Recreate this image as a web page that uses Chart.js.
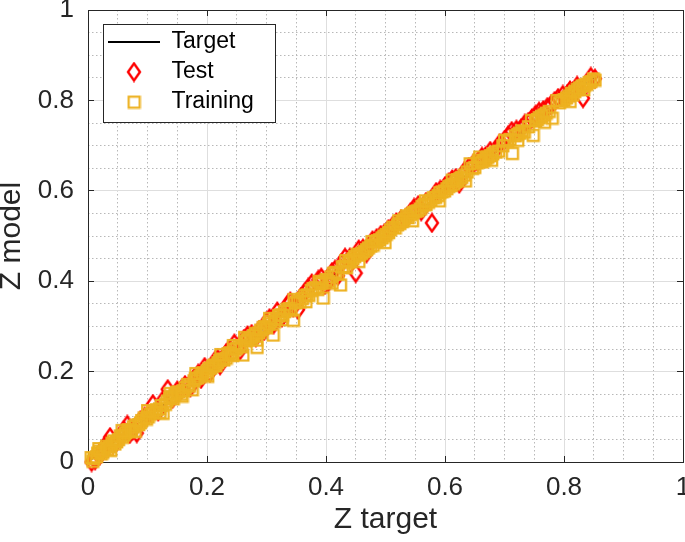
<!DOCTYPE html>
<html>
<head>
<meta charset="utf-8">
<title>Z model vs Z target</title>
<script src="https://cdn.jsdelivr.net/npm/chart.js@4"></script>
<style>
  html, body { margin: 0; padding: 0; background: #fff; }
  #wrap { width: 685px; height: 542px; }
</style>
</head>
<body>
<div id="wrap"><canvas id="chart"></canvas></div>
<script>
// Axis ticks (both axes use the same range)
const tickValues = [0, 0.2, 0.4, 0.6, 0.8, 1];
const tickLabels = ['0', '0.2', '0.4', '0.6', '0.8', '1'];
const minorTicks = [0, 0.05, 0.1, 0.15, 0.2, 0.25, 0.3, 0.35, 0.4, 0.45, 0.5,
  0.55, 0.6, 0.65, 0.7, 0.75, 0.8, 0.85, 0.9, 0.95, 1];

// Target line (y = x over the data range)
const targetX = [0.005, 0.855];
const targetY = [0.005, 0.855];

// Test set
const testX = [0.012, 0.020, 0.030, 0.037, 0.048, 0.055, 0.066, 0.075, 0.082, 0.095,
  0.109, 0.118, 0.134, 0.142, 0.150, 0.163, 0.172, 0.185, 0.196, 0.205,
  0.214, 0.222, 0.232, 0.246, 0.255, 0.262, 0.275, 0.288, 0.296, 0.305,
  0.318, 0.326, 0.336, 0.345, 0.353, 0.364, 0.376, 0.387, 0.398, 0.410,
  0.420, 0.432, 0.450, 0.455, 0.468, 0.478, 0.492, 0.505, 0.518, 0.535,
  0.548, 0.560, 0.578, 0.585, 0.600, 0.612, 0.624, 0.640, 0.655, 0.668,
  0.685, 0.700, 0.712, 0.728, 0.740, 0.752, 0.765, 0.778, 0.790, 0.805,
  0.815, 0.832, 0.840, 0.852,
  0.006, 0.025, 0.042, 0.060, 0.070, 0.088, 0.102, 0.125, 0.157, 0.178,
  0.190, 0.218, 0.238, 0.268, 0.282, 0.300, 0.312, 0.340, 0.358, 0.370,
  0.392, 0.404, 0.415, 0.426, 0.440, 0.462, 0.485, 0.498, 0.512, 0.526,
  0.542, 0.555, 0.568, 0.592, 0.606, 0.618, 0.632, 0.648, 0.662, 0.676,
  0.692, 0.706, 0.720, 0.734, 0.746, 0.758, 0.772, 0.784, 0.798, 0.810,
  0.822, 0.845];
const testY = [0.004, 0.015, 0.038, 0.055, 0.045, 0.060, 0.082, 0.070, 0.064, 0.100,
  0.128, 0.112, 0.161, 0.140, 0.158, 0.170, 0.165, 0.195, 0.210, 0.198,
  0.225, 0.214, 0.240, 0.262, 0.246, 0.272, 0.283, 0.292, 0.290, 0.318,
  0.333, 0.320, 0.350, 0.342, 0.337, 0.375, 0.395, 0.403, 0.392, 0.420,
  0.412, 0.452, 0.418, 0.470, 0.462, 0.490, 0.502, 0.515, 0.530, 0.540,
  0.562, 0.555, 0.529, 0.597, 0.610, 0.625, 0.616, 0.652, 0.664, 0.676,
  0.690, 0.712, 0.732, 0.738, 0.752, 0.768, 0.778, 0.790, 0.805, 0.812,
  0.820, 0.805, 0.838, 0.848,
  0.000, 0.030, 0.040, 0.070, 0.062, 0.092, 0.105, 0.135, 0.160, 0.185,
  0.184, 0.228, 0.250, 0.280, 0.276, 0.310, 0.305, 0.355, 0.365, 0.385,
  0.408, 0.398, 0.425, 0.440, 0.452, 0.472, 0.495, 0.505, 0.522, 0.536,
  0.552, 0.568, 0.575, 0.602, 0.618, 0.628, 0.642, 0.660, 0.675, 0.688,
  0.705, 0.722, 0.735, 0.748, 0.760, 0.775, 0.785, 0.798, 0.812, 0.822,
  0.832, 0.852];

// Training set
const trainX = [0.005, 0.010, 0.016, 0.022, 0.028, 0.033, 0.040, 0.045, 0.051, 0.058,
  0.063, 0.070, 0.076, 0.085, 0.090, 0.098, 0.104, 0.112, 0.120, 0.126,
  0.133, 0.140, 0.146, 0.152, 0.160, 0.167, 0.175, 0.180, 0.188, 0.193,
  0.200, 0.206, 0.212, 0.218, 0.225, 0.232, 0.238, 0.244, 0.250, 0.260,
  0.265, 0.272, 0.278, 0.284, 0.290, 0.297, 0.303, 0.311, 0.316, 0.323,
  0.330, 0.338, 0.345, 0.352, 0.360, 0.368, 0.375, 0.382, 0.390, 0.395,
  0.400, 0.408, 0.416, 0.424, 0.430, 0.438, 0.445, 0.452, 0.460, 0.468,
  0.475, 0.483, 0.490, 0.497, 0.505, 0.512, 0.520, 0.528, 0.535, 0.542,
  0.550, 0.558, 0.565, 0.572, 0.580, 0.588, 0.595, 0.603, 0.610, 0.618,
  0.625, 0.632, 0.642, 0.650, 0.658, 0.665, 0.672, 0.680, 0.690, 0.705,
  0.713, 0.718, 0.725, 0.733, 0.748, 0.755, 0.762, 0.770, 0.780, 0.792,
  0.800, 0.808, 0.815, 0.822, 0.830, 0.838, 0.845, 0.852,
  0.008, 0.014, 0.019, 0.025, 0.031, 0.036, 0.043, 0.048, 0.054, 0.060,
  0.067, 0.073, 0.080, 0.088, 0.094, 0.101, 0.108, 0.115, 0.123, 0.130,
  0.137, 0.143, 0.149, 0.156, 0.163, 0.170, 0.178, 0.184, 0.191, 0.197,
  0.203, 0.209, 0.215, 0.221, 0.228, 0.235, 0.241, 0.247, 0.254, 0.258,
  0.268, 0.275, 0.281, 0.287, 0.294, 0.300, 0.307, 0.313, 0.320, 0.327,
  0.334, 0.341, 0.348, 0.356, 0.364, 0.371, 0.378, 0.386, 0.393, 0.404,
  0.412, 0.420, 0.427, 0.434, 0.441, 0.448, 0.456, 0.464, 0.471, 0.479,
  0.486, 0.494, 0.501, 0.508, 0.516, 0.524, 0.531, 0.538, 0.546, 0.554,
  0.561, 0.568, 0.576, 0.584, 0.591, 0.599, 0.606, 0.614, 0.621, 0.628,
  0.637, 0.646, 0.654, 0.662, 0.669, 0.676, 0.685, 0.697, 0.709, 0.722,
  0.729, 0.740, 0.752, 0.758, 0.766, 0.775, 0.796, 0.804, 0.812, 0.818,
  0.826, 0.834, 0.842, 0.849,
  0.018, 0.038, 0.057, 0.079, 0.100, 0.121, 0.138, 0.158, 0.181, 0.201,
  0.223, 0.243, 0.263, 0.283, 0.305, 0.325, 0.346, 0.366, 0.388, 0.410,
  0.433, 0.455, 0.477, 0.499, 0.522, 0.545, 0.567, 0.590, 0.612, 0.634,
  0.656, 0.678, 0.700, 0.722, 0.745, 0.767, 0.788, 0.810, 0.833];
const trainY = [0.010, 0.008, 0.020, 0.018, 0.030, 0.028, 0.042, 0.040, 0.050, 0.055,
  0.065, 0.068, 0.078, 0.083, 0.092, 0.095, 0.106, 0.110, 0.118, 0.108,
  0.135, 0.145, 0.150, 0.155, 0.158, 0.172, 0.160, 0.185, 0.190, 0.198,
  0.202, 0.208, 0.215, 0.220, 0.228, 0.230, 0.242, 0.258, 0.252, 0.237,
  0.268, 0.275, 0.280, 0.254, 0.292, 0.300, 0.306, 0.281, 0.318, 0.326,
  0.333, 0.340, 0.314, 0.356, 0.362, 0.370, 0.380, 0.386, 0.395, 0.363,
  0.404, 0.410, 0.420, 0.392, 0.433, 0.442, 0.450, 0.460, 0.462, 0.470,
  0.478, 0.488, 0.492, 0.500, 0.508, 0.520, 0.525, 0.532, 0.545, 0.548,
  0.555, 0.560, 0.570, 0.575, 0.585, 0.590, 0.598, 0.605, 0.612, 0.620,
  0.628, 0.635, 0.660, 0.652, 0.675, 0.668, 0.675, 0.682, 0.688, 0.710,
  0.683, 0.722, 0.728, 0.730, 0.723, 0.758, 0.765, 0.772, 0.761, 0.795,
  0.802, 0.810, 0.812, 0.825, 0.832, 0.836, 0.842, 0.845,
  0.002, 0.012, 0.024, 0.022, 0.035, 0.034, 0.047, 0.045, 0.058, 0.060,
  0.072, 0.070, 0.082, 0.087, 0.098, 0.100, 0.112, 0.116, 0.125, 0.128,
  0.142, 0.140, 0.155, 0.150, 0.165, 0.168, 0.180, 0.186, 0.195, 0.193,
  0.207, 0.212, 0.213, 0.225, 0.226, 0.240, 0.238, 0.250, 0.258, 0.255,
  0.272, 0.271, 0.285, 0.286, 0.298, 0.297, 0.312, 0.310, 0.324, 0.325,
  0.338, 0.336, 0.352, 0.354, 0.368, 0.369, 0.384, 0.382, 0.398, 0.400,
  0.418, 0.416, 0.432, 0.430, 0.446, 0.455, 0.458, 0.466, 0.474, 0.480,
  0.490, 0.496, 0.504, 0.514, 0.518, 0.528, 0.538, 0.541, 0.552, 0.556,
  0.566, 0.570, 0.580, 0.586, 0.596, 0.600, 0.610, 0.615, 0.625, 0.630,
  0.642, 0.650, 0.662, 0.664, 0.672, 0.678, 0.686, 0.700, 0.714, 0.725,
  0.733, 0.742, 0.755, 0.762, 0.768, 0.776, 0.800, 0.806, 0.816, 0.820,
  0.828, 0.834, 0.840, 0.848,
  0.030, 0.026, 0.070, 0.068, 0.114, 0.110, 0.152, 0.146, 0.196, 0.190,
  0.238, 0.236, 0.276, 0.270, 0.318, 0.315, 0.360, 0.355, 0.400, 0.396,
  0.446, 0.444, 0.488, 0.486, 0.534, 0.534, 0.578, 0.578, 0.624, 0.622,
  0.668, 0.668, 0.712, 0.712, 0.756, 0.752, 0.800, 0.798, 0.824];

const FONT = '"Liberation Sans", Arial, Helvetica, sans-serif';
const INK = '#262626';
const RED = '#ff0000';
const ORANGE = '#edb120';
const LEGEND_FONT = 23;
const LEGEND_PAD = 7;
const LINE_SAMPLE = 52;

// MATLAB-like marker images
function diamondMarker(w, h, color, lw) {
  const c = document.createElement('canvas');
  c.width = w + lw * 2; c.height = h + lw * 2;
  const g = c.getContext('2d');
  const cx = c.width / 2, cy = c.height / 2;
  g.strokeStyle = color; g.lineWidth = lw; g.lineJoin = 'miter';
  g.beginPath();
  g.moveTo(cx, cy - h / 2); g.lineTo(cx + w / 2, cy);
  g.lineTo(cx, cy + h / 2); g.lineTo(cx - w / 2, cy);
  g.closePath(); g.stroke();
  return c;
}
function squareMarker(s, color, lw) {
  const c = document.createElement('canvas');
  c.width = s + lw * 2; c.height = s + lw * 2;
  const g = c.getContext('2d');
  g.strokeStyle = color; g.lineWidth = lw;
  g.strokeRect(lw, lw, s, s);
  return c;
}
const diamond = diamondMarker(12, 17, RED, 2.4);
const square = squareMarker(11, ORANGE, 2.2);

function pairs(xs, ys) {
  return xs.map((x, i) => ({ x: x, y: ys[i] }));
}
function isMajor(v) {
  return tickValues.some(t => Math.abs(t - v) < 1e-6);
}

// Legend sits inside the axes with a white framed box
const legendFrame = {
  id: 'legendFrame',
  afterLayout(chart) {
    const lg = chart.legend;
    lg.left = chart.chartArea.left + 13;
    lg.top = chart.chartArea.top + 13.5;
    lg.right = lg.left + 300;
    lg.bottom = lg.top + 200;
    if (lg._framed) return;
    lg._framed = true;
    const draw = lg.draw.bind(lg);
    lg.draw = function () {
      const ctx = lg.ctx;
      ctx.save();
      ctx.font = LEGEND_FONT + 'px ' + FONT;
      const textW = Math.max(...lg.legendItems.map(it => ctx.measureText(it.text).width));
      const x0 = Math.round(lg.left + LEGEND_PAD - 5) + 0.5;
      const y0 = Math.round(lg.top + LEGEND_PAD - 6.5) + 0.5;
      const w = Math.round(5 + LINE_SAMPLE + LEGEND_FONT / 2 + textW + 21);
      const h = Math.round(6.5 + lg.legendItems.length * (LEGEND_FONT + LEGEND_PAD) + 1.5);
      ctx.fillStyle = '#fff';
      ctx.fillRect(x0, y0, w, h);
      ctx.strokeStyle = INK;
      ctx.lineWidth = 1;
      ctx.strokeRect(x0, y0, w, h);
      ctx.restore();
      draw();
    };
  }
};

// fixed axis sizes, no extra label padding around the plot box
function fixHeight(h) {
  return s => { s.height = h; s.paddingLeft = 0; s.paddingRight = 0; s.paddingTop = 0; s.paddingBottom = 0; };
}
function fixWidth(w) {
  return s => { s.width = w; s.paddingLeft = 0; s.paddingRight = 0; s.paddingTop = 0; s.paddingBottom = 0; };
}

const tickFont = { family: FONT, size: 26 };
const titleFont = { family: FONT, size: 30 };

new Chart(document.getElementById('chart').getContext('2d'), {
  type: 'scatter',
  data: {
    datasets: [
      {
        label: 'Target',
        data: pairs(targetX, targetY),
        showLine: true,
        borderColor: '#000',
        borderWidth: 1.5,
        pointRadius: 0,
        pointStyle: 'line',
        pointBorderWidth: 1.8,
        xAxisID: 'x', yAxisID: 'y',
        order: 3
      },
      {
        label: 'Test',
        data: pairs(testX, testY),
        pointStyle: diamond,
        pointRadius: 6,
        borderColor: RED,
        backgroundColor: RED,
        clip: false,
        xAxisID: 'x', yAxisID: 'y',
        order: 2
      },
      {
        label: 'Training',
        data: pairs(trainX, trainY),
        pointStyle: square,
        pointRadius: 6,
        borderColor: ORANGE,
        backgroundColor: ORANGE,
        clip: false,
        xAxisID: 'x', yAxisID: 'y',
        order: 1
      }
    ]
  },
  options: {
    responsive: true,
    maintainAspectRatio: false,
    animation: false,
    events: [],
    layout: { autoPadding: false, padding: { top: 10, right: 2, bottom: 0, left: 0 } },
    plugins: {
      tooltip: { enabled: false },
      legend: {
        position: 'chartArea',
        align: 'start',
        labels: {
          usePointStyle: true,
          pointStyleWidth: LINE_SAMPLE,
          padding: LEGEND_PAD,
          color: '#000',
          font: { family: FONT, size: LEGEND_FONT },
          sort: (a, b) => a.datasetIndex - b.datasetIndex
        }
      }
    },
    scales: {
      xMinor: {
        type: 'linear', position: 'bottom', min: 0, max: 1,
        afterBuildTicks: s => { s.ticks = minorTicks.map(v => ({ value: v })); },
        afterFit: fixHeight(0),
        ticks: { display: false },
        grid: {
          color: c => (c.tick && isMajor(c.tick.value)) ? 'rgba(0,0,0,0)' : '#b8b8b8',
          drawTicks: false,
          borderDash: [1.5, 2.5]
        },
        border: { display: false, dash: [1.5, 2.5] }
      },
      yMinor: {
        type: 'linear', position: 'left', min: 0, max: 1,
        afterBuildTicks: s => { s.ticks = minorTicks.map(v => ({ value: v })); },
        afterFit: fixWidth(0),
        ticks: { display: false },
        grid: {
          color: c => (c.tick && isMajor(c.tick.value)) ? 'rgba(0,0,0,0)' : '#b8b8b8',
          drawTicks: false,
          borderDash: [1.5, 2.5]
        },
        border: { display: false, dash: [1.5, 2.5] }
      },
      x: {
        type: 'linear', position: 'bottom', min: 0, max: 1,
        afterBuildTicks: s => { s.ticks = tickValues.map(v => ({ value: v })); },
        afterFit: fixHeight(80),
        ticks: {
          callback: (v, i) => tickLabels[i],
          font: tickFont, color: INK, padding: 16,
          maxRotation: 0, autoSkip: false
        },
        grid: { color: '#dedede', lineWidth: 1, drawTicks: true, tickLength: -6, tickColor: INK, tickWidth: 1 },
        border: { color: INK, width: 1 },
        title: { display: true, text: 'Z target', font: titleFont, color: INK, padding: { top: 0, bottom: 4 } }
      },
      y: {
        type: 'linear', position: 'left', min: 0, max: 1,
        afterBuildTicks: s => { s.ticks = tickValues.map(v => ({ value: v })); },
        afterFit: fixWidth(88),
        ticks: {
          callback: (v, i) => tickLabels[i],
          font: tickFont, color: INK, padding: 20,
          autoSkip: false
        },
        grid: { color: '#dedede', lineWidth: 1, drawTicks: true, tickLength: -6, tickColor: INK, tickWidth: 1 },
        border: { color: INK, width: 1 },
        title: {
          display: true, text: 'Z model', color: INK,
          font: { family: FONT, size: 30, lineHeight: 0.75 },
          padding: { top: 0, bottom: 0 }
        }
      },
      // top and right edges of the axes box
      xTop: {
        type: 'linear', position: 'top', min: 0, max: 1,
        afterBuildTicks: s => { s.ticks = tickValues.map(v => ({ value: v })); },
        afterFit: fixHeight(0),
        ticks: { display: false },
        grid: { drawOnChartArea: false, drawTicks: true, tickLength: -6, tickColor: INK },
        border: { color: INK, width: 1 }
      },
      yRight: {
        type: 'linear', position: 'right', min: 0, max: 1,
        afterBuildTicks: s => { s.ticks = tickValues.map(v => ({ value: v })); },
        afterFit: fixWidth(0),
        ticks: { display: false },
        grid: { drawOnChartArea: false, drawTicks: true, tickLength: -6, tickColor: INK },
        border: { color: INK, width: 1 }
      }
    }
  },
  plugins: [legendFrame]
});
</script>
</body>
</html>
